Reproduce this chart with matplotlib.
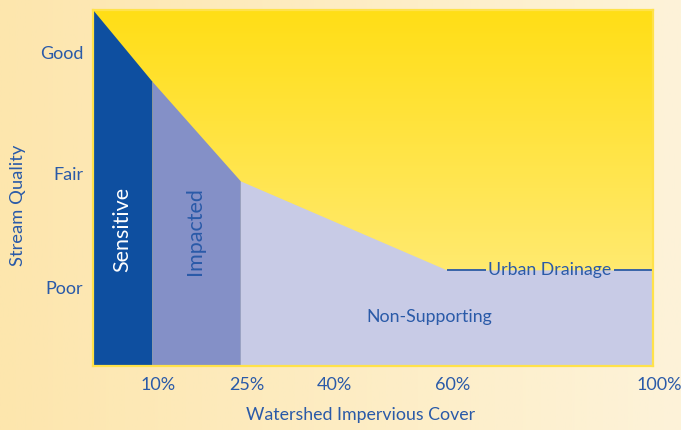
import numpy as np
import matplotlib
matplotlib.use("Agg")
import matplotlib.pyplot as plt
from matplotlib.colors import LinearSegmentedColormap
from matplotlib.transforms import ScaledTranslation

plt.rcParams['font.family'] = ['Lato', 'DejaVu Sans']

# Impervious cover (%) vs. stream quality (relative 0-100 scale)
impervious = [0, 10, 25, 60, 100]
quality = [100, 80, 52, 27, 27]

zone_names = ["Sensitive", "Impacted", "Non-Supporting"]
zone_bounds = [(0, 10), (10, 25), (25, 100)]
zone_colors = ["#0e4fa0", "#8490c7", "#c8cbe6"]

x_ticks = [10, 25, 40, 60, 100]
x_tick_labels = ["10%", "25%", "40%", "60%", "100%"]
y_ticks = [22, 54, 88]
y_tick_labels = ["Poor", "Fair", "Good"]

TEXT = "#2a5aa8"

fig = plt.figure(figsize=(6.81, 4.30), dpi=100)

# cream backdrop fading from left to right
bg = fig.add_axes([0, 0, 1, 1], zorder=-10)
bg.imshow(np.linspace(0, 1, 256)[None, :], aspect="auto", extent=[0, 1, 0, 1],
          cmap=LinearSegmentedColormap.from_list("bg", ["#fde6ad", "#fdf3d9"]))
bg.set_axis_off()

ax = fig.add_axes([93 / 681, 64 / 430, 560 / 681, 356 / 430])

# compress the span above 60% impervious cover
def fwd(x):
    x = np.asarray(x, dtype=float)
    return np.where(x <= 60, x, 60 + (x - 60) * 0.875)

def inv(u):
    u = np.asarray(u, dtype=float)
    return np.where(u <= 60, u, 60 + (u - 60) / 0.875)

ax.set_xscale("function", functions=(fwd, inv))
ax.set_xlim(0, 100)
ax.set_ylim(0, 100)

# yellow sky gradient behind the zones
ax.imshow(np.linspace(0, 1, 256)[:, None], aspect="auto", extent=[0, 1, 0, 1],
          transform=ax.transAxes, zorder=0,
          cmap=LinearSegmentedColormap.from_list("sky", ["#ffde16", "#ffee90"]))

imp = np.array(impervious, dtype=float)
q = np.array(quality, dtype=float)
for (lo, hi), col in zip(zone_bounds, zone_colors):
    xs = imp[(imp >= lo) & (imp <= hi)]
    ys = np.interp(xs, imp, q)
    ax.fill_between(xs, 0, ys, color=col, lw=0, zorder=2)

ax.text(5, 38.5, zone_names[0], rotation=90, ha="center", va="center",
        color="white", fontsize=15.5, zorder=5)
ax.text(17.3, 38, zone_names[1], rotation=90, ha="center", va="center",
        color=TEXT, fontsize=15.5, zorder=5)
ax.text(57, 13.8, zone_names[2], ha="center", va="center",
        color=TEXT, fontsize=12.8, zorder=5)

# urban drainage plateau, labelled in a gap of the line
ud = ax.text(80, quality[-1], "Urban Drainage", ha="center", va="center",
             color=TEXT, fontsize=12.8, zorder=5)
fig.canvas.draw()
bb = ud.get_window_extent().transformed(ax.transData.inverted())
gap = 0.5
ax.plot([impervious[3], bb.x0 - gap], [quality[3], quality[3]], color=TEXT, lw=1.3,
        zorder=4, solid_capstyle="butt")
ax.plot([bb.x1 + gap, impervious[-1]], [quality[-1], quality[-1]], color=TEXT, lw=1.3,
        zorder=4, solid_capstyle="butt")

ax.set_xticks(x_ticks)
ax.set_xticklabels(x_tick_labels)
ax.set_yticks(y_ticks)
ax.set_yticklabels(y_tick_labels)
ax.tick_params(axis="both", length=0, labelcolor=TEXT, labelsize=13)
ax.tick_params(axis="x", pad=8)
ax.tick_params(axis="y", pad=7)
ax.xaxis.set_minor_locator(matplotlib.ticker.NullLocator())

# nudge the percentage labels slightly to the right of their ticks
shift = ScaledTranslation(6 / 100, 0, fig.dpi_scale_trans)
for lbl in ax.get_xticklabels():
    lbl.set_transform(lbl.get_transform() + shift)

for s in ax.spines.values():
    s.set_color("#ffe24a")
    s.set_linewidth(1.6)
    s.set_zorder(6)

fig.text(361 / 681, 1 - 415 / 430, "Watershed Impervious Cover", ha="center",
         va="center", color=TEXT, fontsize=12.8)
fig.text(18 / 681, 1 - 205 / 430, "Stream Quality", ha="center", va="center",
         rotation=90, color=TEXT, fontsize=13.2)

fig.savefig("out.png", dpi=100)
